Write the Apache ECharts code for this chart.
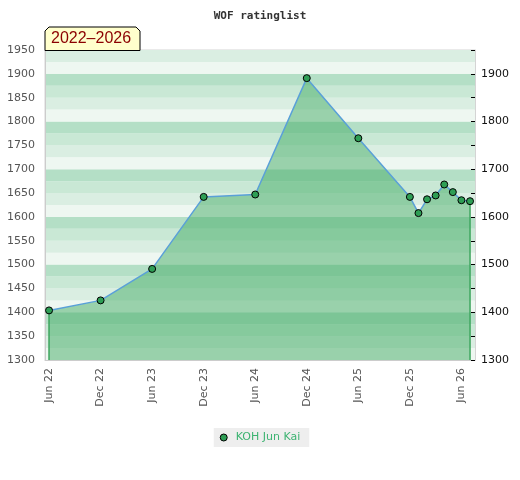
<!DOCTYPE html>
<html>
<head>
<meta charset="utf-8">
<script src="https://cdn.jsdelivr.net/npm/echarts@6/dist/echarts.min.js"></script>
<style>html,body{margin:0;padding:0;background:#fff}#c{width:520px;height:480px}</style>
</head>
<body>
<div id="c"></div>
<script>
// ---- data ----
const playerName = 'KOH Jun Kai';
const dates = ['2022-06','2022-12','2023-06','2023-12','2024-06','2024-12','2025-06','2025-12',
               '2026-01','2026-02','2026-03','2026-04','2026-05','2026-06','2026-07'];
const ratings = [1404,1425,1491,1642,1647,1891,1765,1642,1608,1637,1645,1668,1652,1635,1633];
const tickDates = ['2022-06','2022-12','2023-06','2023-12','2024-06','2024-12','2025-06','2025-12','2026-06'];
const leftTicks = [1300,1350,1400,1450,1500,1550,1600,1650,1700,1750,1800,1850,1900,1950];
const rightTicks = [1300,1400,1500,1600,1700,1800,1900];
const periodLabel = '2022\u20132026';
const monthNames = ['Jan','Feb','Mar','Apr','May','Jun','Jul','Aug','Sep','Oct','Nov','Dec'];

function mIdx(d){ const [y,m] = d.split('-').map(Number); return (y-2022)*12 + (m-1); }
function mLabel(v){ const y = 2022 + Math.floor(v/12); const m = ((v%12)+12)%12; return monthNames[m] + ' ' + String(y).slice(2); }

const pts = dates.map((d,i)=>[mIdx(d), ratings[i]]);
const first = pts[0], last = pts[pts.length-1];
const yMin = leftTicks[0], yMax = leftTicks[leftTicks.length-1];

const chart = echarts.init(document.getElementById('c'), null, {renderer:'canvas'});
chart.setOption({
  animation:false,
  title:{ text:'WOF ratinglist', left:'center', top:6,
    textStyle:{ fontFamily:'DejaVu Sans Mono', fontWeight:'bold', fontSize:11, color:'#333' } },
  legend:{ data:[playerName], bottom:33, left:'center', backgroundColor:'#eeeeee',
    padding:[4,9,4,6], itemWidth:14, itemHeight:7, icon:'circle',
    textStyle:{ color:'#3cb371', fontFamily:'DejaVu Sans', fontSize:11 },
    itemStyle:{ color:'#2e9e55', borderColor:'#000', borderWidth:1 } },
  grid:{ left:45, right:45, top:50, bottom:120, show:true, borderColor:'#d4d4d4', borderWidth:1, containLabel:false },
  xAxis:{ type:'value', min: mIdx(dates[0]) - 0.47, max: mIdx(dates[dates.length-1]) + 0.58,
    axisLine:{ show:true, lineStyle:{ color:'#cccccc' } }, axisTick:{ show:false }, splitLine:{ show:false },
    axisLabel:{ customValues: tickDates.map(mIdx), formatter: v=>mLabel(Math.round(v)), rotate:90, margin:8,
      color:'#555', fontFamily:'DejaVu Sans', fontSize:11 } },
  yAxis:[
    { type:'value', min:yMin, max:yMax, interval:25, position:'left',
      axisLine:{ show:true, lineStyle:{ color:'#cccccc' } }, axisTick:{ show:false },
      axisLabel:{ formatter: v => leftTicks.includes(v) ? String(v) : '', color:'#555', fontFamily:'DejaVu Sans', fontSize:11, margin:10 },
      splitLine:{ show:false },
      splitArea:{ show:true, areaStyle:{ opacity:1, color:['#eef7f1','#daeee2','#c9e8d5','#b4dfc6'] } } },
    { type:'value', min:yMin, max:yMax, interval:50, position:'right',
      axisLine:{ show:true, lineStyle:{ color:'#d4d4d4' } },
      axisTick:{ show:true, inside:true, length:4, lineStyle:{ color:'#000' } },
      axisLabel:{ formatter: v => rightTicks.includes(v) ? String(v) : '', color:'#111', fontFamily:'DejaVu Sans', fontSize:11, margin:6 },
      splitLine:{ show:false }, splitArea:{ show:false } }
  ],
  series:[
    { name:playerName, type:'line', data:pts, yAxisIndex:0, z:3,
      symbol:'circle', symbolSize:7,
      itemStyle:{ color:'#2e9e55', borderColor:'#000', borderWidth:1 },
      lineStyle:{ color:'#5aa0d8', width:1.5 },
      areaStyle:{ color:'rgb(68,171,102)', opacity:0.5, origin:'start' } },
    { name:'edgeL', type:'line', data:[[first[0], yMin],[first[0], first[1]]], symbol:'none', silent:true, z:2,
      lineStyle:{ color:'#3aa35a', width:1.5 } },
    { name:'edgeR', type:'line', data:[[last[0], yMin],[last[0], last[1]]], symbol:'none', silent:true, z:2,
      lineStyle:{ color:'#3aa35a', width:1.5 } }
  ],
  graphic:[
    { type:'polygon', z:10, shape:{ points:[[45,50.5],[45,31],[49,27],[136,27],[140,31],[140,50.5]] },
      style:{ fill:'#ffffcc', stroke:'#000', lineWidth:1 } },
    { type:'text', z:11, left:51, top:31,
      style:{ text:periodLabel, fill:'#8b0000', font:'16px "Liberation Sans", Arial, sans-serif' } }
  ]
});
</script>
</body>
</html>
